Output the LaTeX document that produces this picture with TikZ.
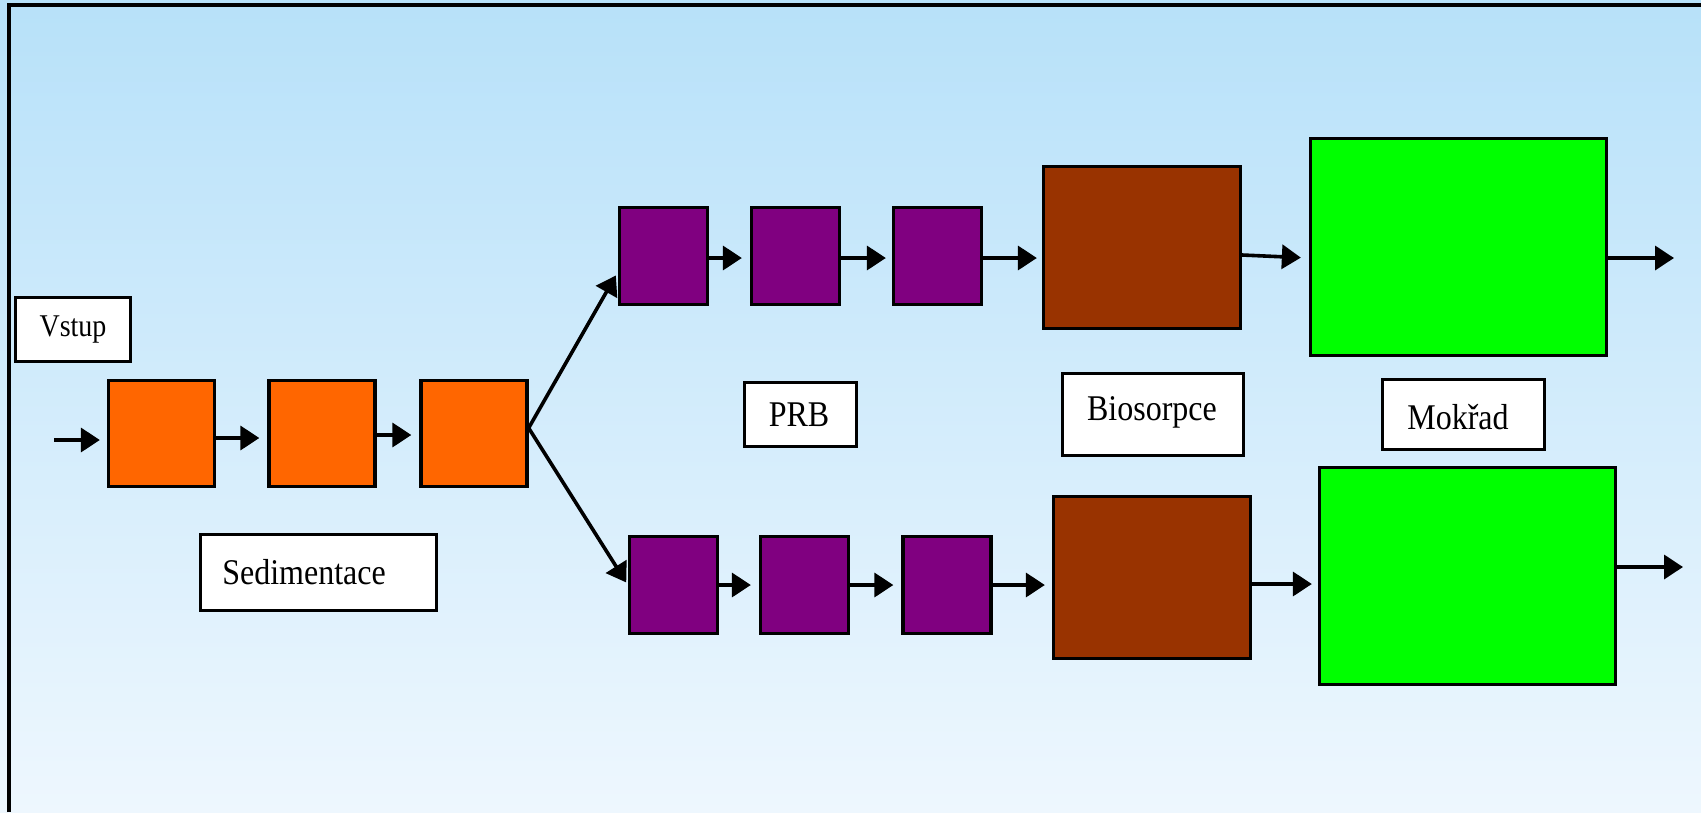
\documentclass[tikz,border=0pt]{standalone}
\usepackage{fontspec}
\usepackage{graphicx}
\setmainfont{Liberation Serif}
\usetikzlibrary{arrows.meta}
\definecolor{bgtop}{HTML}{B7E1F9}
\definecolor{bgbot}{HTML}{EEF7FE}
\definecolor{sedcol}{HTML}{FF6600}
\definecolor{prbcol}{HTML}{800080}
\definecolor{biocol}{HTML}{993300}
\definecolor{wetcol}{HTML}{00FF00}
\newcommand{\lbl}[2][32]{\scalebox{1}[1.13]{\fontsize{#1}{38}\selectfont #2}}
\begin{document}
\begin{tikzpicture}[x=1pt,y=-1pt,
  box/.style={draw=black, line width=3.3pt, inner sep=0pt},
  txtbox/.style={box, fill=white},
  sedbox/.style={box, fill=sedcol, minimum width=106pt, minimum height=106pt},
  prbbox/.style={box, fill=prbcol, minimum width=88pt, minimum height=97pt},
  biobox/.style={box, fill=biocol, minimum width=197pt, minimum height=162pt},
  wetbox/.style={box, fill=wetcol, minimum width=296pt, minimum height=217pt},
  arr/.style={line width=3.6pt, -{Triangle[length=19pt,width=24pt]}}]
\useasboundingbox (0,0) rectangle (1701,812);
\fill[top color=bgtop, bottom color=bgbot] (0,0) rectangle (1701,812);
\draw[line width=3.3pt] (9,812) -- (9,5) -- (1701,5);

% labels
\node[txtbox, minimum width=115pt, minimum height=64pt] (vstup) at (73,329.5) {};
\node at (73,329.5) {\lbl[28]{Vstup}};
\node[txtbox, minimum width=236pt, minimum height=76pt] (sed) at (318.5,572.5) {};
\node at (304,572.5) {\lbl{Sedimentace}};
\node[txtbox, minimum width=112pt, minimum height=64pt] (prb) at (800.5,414.5) {};
\node at (799,414.5) {\lbl{PRB}};
\node[txtbox, minimum width=181pt, minimum height=82pt] (bio) at (1153,414.5) {};
\node at (1152,412) {\lbl{Biosorpce}};
\node[txtbox, minimum width=162pt, minimum height=70pt] (mok) at (1463.5,414.5) {};
\node at (1458,417) {\lbl{Mokřad}};

% sedimentation
\node[sedbox] (o1) at (161.5,433.5) {};
\node[sedbox] (o2) at (322,433.5) {};
\node[sedbox] (o3) at (474,433.5) {};

% upper line
\node[prbbox] (p1) at (663.5,256) {};
\node[prbbox] (p2) at (795.5,256) {};
\node[prbbox] (p3) at (937.5,256) {};
\node[biobox] (bt) at (1142,247.5) {};
\node[wetbox] (gt) at (1458.5,247) {};

% lower line
\node[prbbox] (b1) at (673.5,585) {};
\node[prbbox] (b2) at (804.5,585) {};
\node[prbbox] (b3) at (947,585) {};
\node[biobox] (bb) at (1152,577.5) {};
\node[wetbox] (gb) at (1467.5,576) {};

\coordinate (in0) at (54,440);
\coordinate (out1) at (1674,258);
\coordinate (out2) at (1683,567);

\draw[arr, shorten >=7pt] (in0) -- ([yshift=-6.5pt]o1.west);
\draw[arr, shorten >=8pt] ([yshift=-4.5pt]o1.east) -- ([yshift=-4.5pt]o2.west);
\draw[arr, shorten >=8pt] ([yshift=-1.5pt]o2.east) -- ([yshift=-1.5pt]o3.west);
\draw[arr, shorten >=4pt] ([yshift=5.5pt]o3.east) -- ([yshift=-16pt]p1.west);
\draw[arr, shorten >=3pt] ([yshift=5.5pt]o3.east) -- (b1.west);

\draw[arr, shorten >=8pt] ([yshift=-2pt]p1.east) -- ([yshift=-2pt]p2.west);
\draw[arr, shorten >=6pt] ([yshift=-2pt]p2.east) -- ([yshift=-2pt]p3.west);
\draw[arr, shorten >=5pt] ([yshift=-2pt]p3.east) -- ([yshift=-10.5pt]bt.west);
\draw[arr, shorten >=8pt] ([yshift=-7.5pt]bt.east) -- ([yshift=-11pt]gt.west);
\draw[arr] ([yshift=-11pt]gt.east) -- (out1);

\draw[arr, shorten >=8pt] (b1.east) -- (b2.west);
\draw[arr, shorten >=8pt] (b2.east) -- (b3.west);
\draw[arr, shorten >=7pt] (b3.east) -- ([yshift=-7.5pt]bb.west);
\draw[arr, shorten >=6pt] ([yshift=-6.5pt]bb.east) -- ([yshift=-8pt]gb.west);
\draw[arr] ([yshift=9pt]gb.east) -- (out2);
\end{tikzpicture}
\end{document}
